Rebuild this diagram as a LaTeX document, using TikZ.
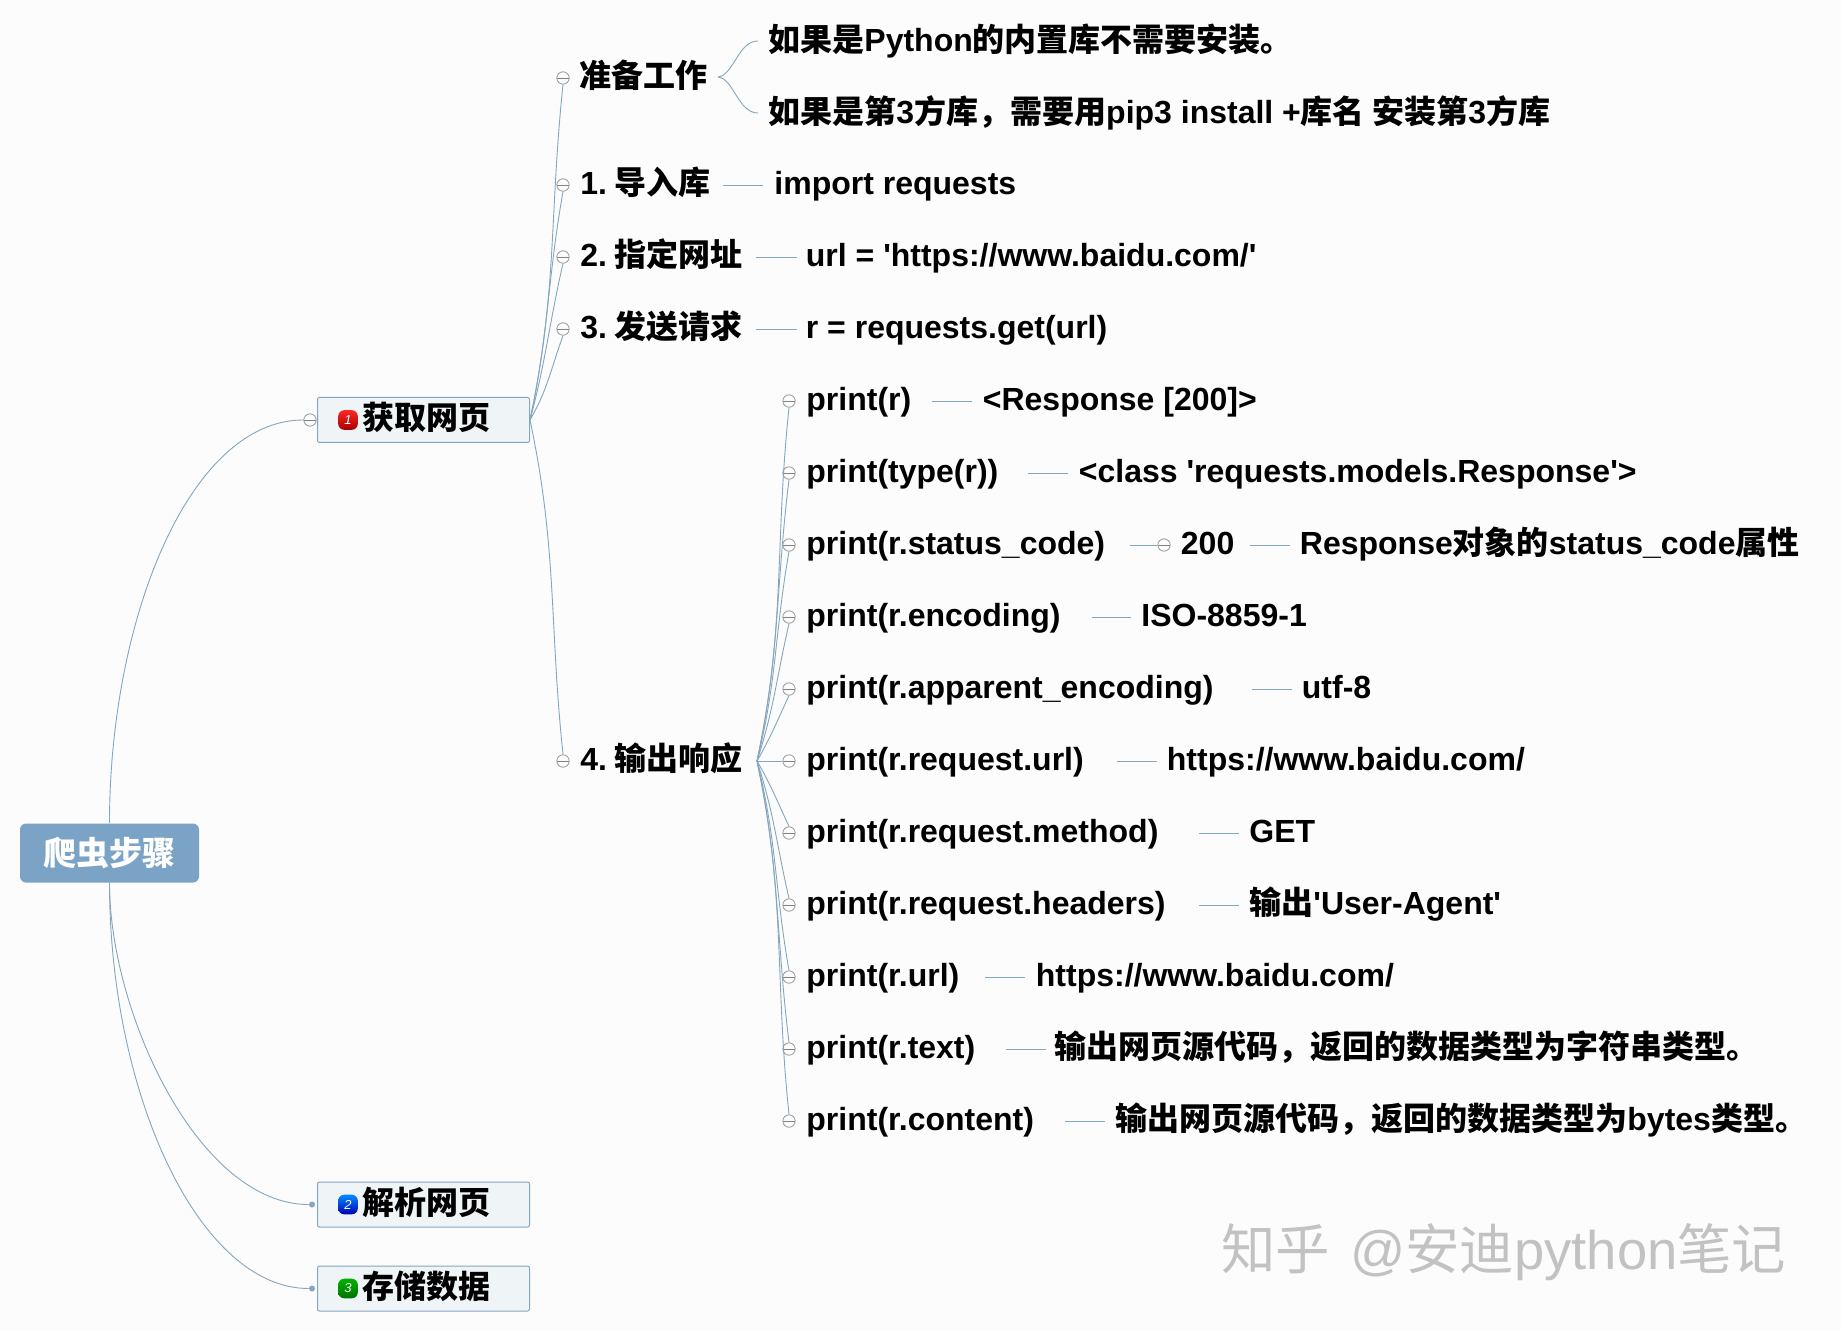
\documentclass[tikz,border=0pt]{standalone}
\usepackage{fontspec}
\usepackage{xcolor}
\usepackage{tikz}
\setmainfont{Liberation Sans}
\newfontfamily\zhfont{Noto Sans CJK SC}
\newcommand{\zh}[1]{{\zhfont #1}}
\newcommand{\qt}{\textquotesingle}
\definecolor{linkblue}{HTML}{84A6BE}
\definecolor{rootblue}{HTML}{7AA3C6}
\definecolor{boxfill}{HTML}{EFF4F7}
\definecolor{pagegrey}{HTML}{FCFCFC}
\definecolor{markgrey}{HTML}{C2C2C2}

\begin{document}
\begin{tikzpicture}[x=0.5pt,y=-0.5pt,
  link/.style={color=linkblue, line width=0.45pt},
  txt/.style={anchor=base west, inner sep=0pt, yshift=-4.5pt, text=black, font=\fontsize{16}{18}\selectfont\bfseries},
  rootbox/.style={fill=rootblue, rounded corners=3pt, minimum width=89.5pt, minimum height=29.5pt, inner sep=0pt, text=white, font=\fontsize{16.5}{18}\selectfont\bfseries},
  topicbox/.style={draw=linkblue, fill=boxfill, rounded corners=1pt, line width=0.5pt, minimum width=106pt, minimum height=22.5pt, inner sep=0pt},
  fold/.style={circle, draw=black!40, fill=pagegrey, line width=0.4pt, minimum size=6.2pt, inner sep=0pt,
    path picture={\draw[black!50, line width=0.35pt] (path picture bounding box.west)--(path picture bounding box.east);}},
  dot/.style={circle, fill=linkblue, minimum size=3pt, inner sep=0pt},
  icon/.style={rounded corners=3pt, minimum size=9.8pt, inner sep=0pt, text=white, font=\fontsize{6.5}{7}\selectfont\itshape}]

\fill[pagegrey] (0,0) rectangle (1841,1331);
\useasboundingbox (0,0) rectangle (1841,1331);

% main topics
\node[rootbox] (root) at (109.5,853) {\zh{爬虫步骤}};
\node[topicbox] (fetch) at (423.5,420) {};
\node[topicbox] (parse) at (423.5,1204.5) {};
\node[topicbox] (store) at (423.5,1288.5) {};
\node[icon, top color=red!85!white, bottom color=red!65!black] (fetchicon) at (348,420) {1};
\node[icon, top color=blue!45!cyan, bottom color=blue!70!black] (parseicon) at (348,1204.5) {2};
\node[icon, top color=green!70!black, bottom color=green!45!black] (storeicon) at (348,1288.5) {3};
\node[txt] (fetchtxt) at (362,421) {\zh{获取网页}};
\node[txt] (parsetxt) at (362,1205.5) {\zh{解析网页}};
\node[txt] (storetxt) at (362,1289.5) {\zh{存储数据}};
\node[fold] (fetchfold) at (310,420) {};
\node[dot] (parsedot) at (312,1204.5) {};
\node[dot] (storedot) at (312,1288.5) {};
\draw[link] (root.north) .. controls +(0,-204) and +(-114,0) .. (fetchfold.west);
\draw[link] (root.south) .. controls +(0,130) and +(-110,0) .. (parsedot.west);
\draw[link] (root.south) .. controls +(0,210) and +(-110,0) .. (storedot.west);

% first level
\node[fold] (prepfold) at (563,78) {};
\node[fold] (importfold) at (563,185) {};
\node[fold] (urlfold) at (563,257) {};
\node[fold] (sendfold) at (563,329) {};
\node[fold] (outfold) at (563,761) {};
\node[txt] (preptxt) at (579,78.5) {\zh{准备工作}};
\node[txt] (importtxt) at (580,186) {1.\kern3.7pt\zh{导入库}};
\node[txt] (urltxt) at (580,258) {2.\kern3.7pt\zh{指定网址}};
\node[txt] (sendtxt) at (580,330) {3.\kern3.7pt\zh{发送请求}};
\node[txt] (outtxt) at (580,761.5) {4.\kern3.7pt\zh{输出响应}};
\draw[link] (fetch.east) to[out=78,in=-96] (prepfold.south);
\draw[link] (fetch.east) to[out=78,in=-100] (importfold.south);
\draw[link] (fetch.east) to[out=75,in=-103] (urlfold.south);
\draw[link] (fetch.east) to[out=60,in=-110] (sendfold.south);
\draw[link] (fetch.east) to[out=-78,in=96] (outfold.north);

% preparation notes
\coordinate (prepjoin) at (718,77);
\node[txt] (note1) at (768,42.5) {\zh{如果是}Python\zh{的内置库不需要安装。}};
\node[txt] (note2) at (768,114.5) {\zh{如果是第}3\zh{方库，需要用}pip3 install +\zh{库名 安装第}3\zh{方库}};
\draw[link] (prepjoin) .. controls +(16,-2) and +(-20,0) .. (758,41);
\draw[link] (prepjoin) .. controls +(16,2) and +(-20,0) .. (758,113);

% one line answers
\coordinate (importline) at (723,185);
\coordinate (urlline) at (756,257);
\coordinate (sendline) at (756,329);
\node[txt] (importres) at (774,186) {import requests};
\node[txt] (urlres) at (805.5,258) {url = \qt https://www.baidu.com/\qt};
\node[txt] (sendres) at (805.5,330) {r = requests.get(url)};
\draw[link, shorten >=5.5pt] (importline) -- (importline -| importres.west);
\draw[link, shorten >=4.5pt] (urlline) -- (urlline -| urlres.west);
\draw[link, shorten >=4.5pt] (sendline) -- (sendline -| sendres.west);

% print calls
\coordinate (outjoin) at (757,761);
\node[fold] (f1) at (789,401) {};
\node[fold] (f2) at (789,473) {};
\node[fold] (f3) at (789,545) {};
\node[fold] (f4) at (789,617) {};
\node[fold] (f5) at (789,689) {};
\node[fold] (f6) at (789,761) {};
\node[fold] (f7) at (789,833) {};
\node[fold] (f8) at (789,905) {};
\node[fold] (f9) at (789,977) {};
\node[fold] (f10) at (789,1049) {};
\node[fold] (f11) at (789,1121) {};
\draw[link] (outjoin) to[out=78,in=-96] (f1.south);
\draw[link] (outjoin) to[out=78,in=-97] (f2.south);
\draw[link] (outjoin) to[out=76,in=-100] (f3.south);
\draw[link] (outjoin) to[out=72,in=-103] (f4.south);
\draw[link] (outjoin) to[out=60,in=-115] (f5.south);
\draw[link] (outjoin) -- (f6.west);
\draw[link] (outjoin) to[out=-60,in=115] (f7.north);
\draw[link] (outjoin) to[out=-72,in=103] (f8.north);
\draw[link] (outjoin) to[out=-76,in=100] (f9.north);
\draw[link] (outjoin) to[out=-78,in=97] (f10.north);
\draw[link] (outjoin) to[out=-78,in=96] (f11.north);

\node[txt] (p1) at (806,401.5) {print(r)};
\node[txt] (p2) at (806,473.5) {print(type(r))};
\node[txt] (p3) at (806,545) {print(r.status\_code)};
\node[txt] (p4) at (806,617) {print(r.encoding)};
\node[txt] (p5) at (806,689) {print(r.apparent\_encoding)};
\node[txt] (p6) at (806,761) {print(r.request.url)};
\node[txt] (p7) at (806,833) {print(r.request.method)};
\node[txt] (p8) at (806,905) {print(r.request.headers)};
\node[txt] (p9) at (806,977) {print(r.url)};
\node[txt] (p10) at (806,1049) {print(r.text)};
\node[txt] (p11) at (806,1121) {print(r.content)};

\node[txt] (r1) at (982.5,401.5) {<Response [200]>};
\node[txt] (r2) at (1078.5,473.5) {<class \qt requests.models.Response\qt>};
\node[txt] (r3) at (1180.5,545) {200};
\node[txt] (r3b) at (1299.5,545) {Response\zh{对象的}status\_code\zh{属性}};
\node[txt] (r4) at (1141,617) {ISO-8859-1};
\node[txt] (r5) at (1301.5,689) {utf-8};
\node[txt] (r6) at (1166.5,761) {https://www.baidu.com/};
\node[txt] (r7) at (1249,833) {GET};
\node[txt] (r8) at (1249,905) {\zh{输出}\qt User-Agent\qt};
\node[txt] (r9) at (1035.5,977) {https://www.baidu.com/};
\node[txt] (r10) at (1054.5,1049) {\zh{输出网页源代码，返回的数据类型为字符串类型。}};
\node[txt] (r11) at (1115,1121) {\zh{输出网页源代码，返回的数据类型为}bytes\zh{类型。}};

\coordinate (s1) at (932,401);
\coordinate (s2) at (1028,473);
\coordinate (s3) at (1130,545);
\coordinate (s3b) at (1250,545);
\coordinate (s4) at (1092,617);
\coordinate (s5) at (1252,689);
\coordinate (s6) at (1117,761);
\coordinate (s7) at (1199,833);
\coordinate (s8) at (1199,905);
\coordinate (s9) at (985,977);
\coordinate (s10) at (1006,1049);
\coordinate (s11) at (1065,1121);
\node[fold] (f3b) at (1164,545) {};
\draw[link, shorten >=5.5pt] (s1) -- (s1 -| r1.west);
\draw[link, shorten >=5.5pt] (s2) -- (s2 -| r2.west);
\draw[link] (s3) -- (f3b.west);
\draw[link, shorten >=5pt] (s3b) -- (s3b -| r3b.west);
\draw[link, shorten >=5pt] (s4) -- (s4 -| r4.west);
\draw[link, shorten >=5pt] (s5) -- (s5 -| r5.west);
\draw[link, shorten >=5pt] (s6) -- (s6 -| r6.west);
\draw[link, shorten >=5pt] (s7) -- (s7 -| r7.west);
\draw[link, shorten >=5pt] (s8) -- (s8 -| r8.west);
\draw[link, shorten >=5.5pt] (s9) -- (s9 -| r9.west);
\draw[link, shorten >=4.5pt] (s10) -- (s10 -| r10.west);
\draw[link, shorten >=5pt] (s11) -- (s11 -| r11.west);

\node[anchor=west, inner sep=0pt, text=markgrey, font=\fontsize{27.2}{30}\selectfont] (mark) at (1221,1252) {\zh{知乎}\kern10pt @\zh{安迪}python\zh{笔记}};

\end{tikzpicture}
\end{document}
